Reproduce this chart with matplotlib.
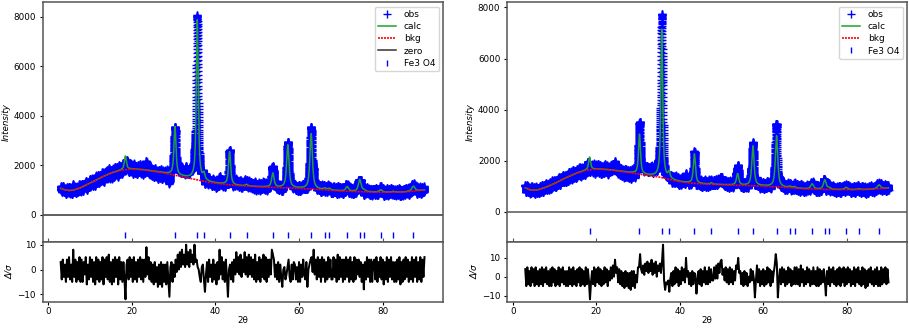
import numpy as np
import matplotlib
matplotlib.use("Agg")
import matplotlib.pyplot as plt

plt.rcParams["font.family"] = ["DejaVu Sans"]
plt.rcParams["font.size"] = 6.3

# ------------------------------------------------------------------ data
# 2-theta positions of the residual readings (0.25 deg apart, 3..90)
resid_theta = np.arange(3.0, 90.001, 0.25)
scan_step = 0.01

# ---- left pattern
left_refl = [18.47, 30.33, 35.67, 37.26, 43.39, 47.45, 53.74, 57.32, 62.90,
             66.16, 67.20, 71.50, 74.52, 75.56, 79.54, 82.48, 87.34]
left_height = [550, 1950, 6450, 250, 1330, 60, 570, 1730, 2230,
               60, 60, 180, 480, 60, 100, 30, 200]
left_fwhm = [0.58, 0.58, 0.56, 0.58, 0.6, 0.62, 0.68, 0.68, 0.7,
             0.72, 0.72, 0.78, 0.78, 0.78, 0.82, 0.82, 0.88]
left_bkg_theta = [3, 4, 5, 6, 7.5, 10, 12.5, 15, 17.5, 20, 22.5, 25, 27.5, 30,
                  32.5, 35, 37.5, 40, 42.5, 45, 50, 55, 60, 65, 70, 75, 80, 85, 90]
left_bkg = [1075, 1010, 985, 1000, 1080, 1280, 1500, 1690, 1810, 1855, 1830,
            1770, 1700, 1615, 1530, 1440, 1350, 1280, 1230, 1190, 1140, 1105,
            1075, 1025, 970, 935, 915, 925, 1005]
left_resid = [
    3, -4, 4, -3, 2, -5, 4, -3, 5, -4, 2, -5, 8, -3, 4, -5, 3, -4, 5, -5,
    4, -5, 3, -2, 5, -6, 2, -4, 5, -3, 4, -5, 3, -6, 5, -4, 4, -5, 3, -4,
    5, -6, 4, -3, 5, -4, 6, -5, 3, -6, 4, -5, 5, -3, 4, -6, 5, -4, 3, -5,
    3, -4, -12, 2, 4, -4, 5, -3, 4, -5, 5, -4, 3, -5, 4, -3, 5, -4, 4, -5,
    4, -3, 9, -2, 5, -4, 3, -5, 2, -6, 3, -5, 1, -7, 2, -6, 3, -7, 2, -5,
    2, -6, 3, -4, -11, 1, 3, -5, 2, -3, 4, -1, 6, 0, 7, 1, 8, 2, 6, 1,
    10, 2, 7, 1, 8, 3, 6, 2, 10, 3, 4, 1, 0, -3, -5, 1, 2, -4, -9, -2,
    3, -5, 4, -3, 2, -5, 4, -4, 2, -6, 3, -4, 8, -2, 5, -4, 3, -5, 4, -3,
    -11, 0, 2, -4, 3, -5, 4, -2, 7, -1, 5, -2, 6, -3, 4, -1, 7, -2, 5, -3,
    6, -2, 5, -3, 4, -4, 6, -5, 3, -4, 5, -5, 4, -3, 6, -4, 5, -5, 4, -3,
    4, -2, 8, 6, 4, -3, 2, -4, 3, -5, 2, -3, -7, 0, 1, -4, -2, 1, 4, -3,
    -5, 2, -4, 3, 2, -4, 1, -5, 3, -5, 2, -3, 4, -2, -4, 3, -7, 0, 2, 4,
    5, -1, 8, -2, 4, -4, 5, -3, 4, -5, 5, -3, 4, -5, 3, -4, 5, -3, 4, -4,
    -4, 5, -3, 4, -5, 6, -4, 5, -3, 4, -5, 4, -4, 5, -3, 4, -5, 5, -4, 3,
    -5, 5, -4, 4, -2, 4, -3, 3, -5, 2, -8, 3, -4, 5, -3, 4, -5, 4, -5, 3,
    4, -4, 5, -5, 3, -3, 5, -4, 4, -6, 3, -4, 5, -5, 4, -3, 5, -4, 3, -5,
    3, -5, 4, -4, 5, -6, 3, -5, 4, -4, 5, -3, 4, -5, 3, -4, 5, -5, 4, -3,
    5, -5, 3, -4, 5, -5, 4, -3, 5]
left_refl_level = -800
left_ylim = (-1090, 8590)
left_phase = "Fe3 O4"

# ---- right pattern
right_refl = [18.41, 30.36, 35.70, 37.45, 43.51, 47.57, 53.86, 57.53, 63.19,
              66.37, 67.49, 71.71, 74.74, 75.78, 79.84, 82.87, 87.73]
right_height = [500, 1550, 5800, 250, 1150, 50, 450, 1550, 2000,
                50, 50, 200, 370, 60, 90, 30, 150]
right_fwhm = [0.56, 0.55, 0.54, 0.56, 0.58, 0.6, 0.64, 0.64, 0.66,
              0.7, 0.7, 0.75, 0.75, 0.75, 0.8, 0.8, 0.85]
right_bkg_theta = [3, 4, 5, 6, 7.5, 10, 12.5, 15, 17.5, 20, 22.5, 25, 27.5, 30,
                   32.5, 35, 37.5, 40, 42.5, 45, 50, 55, 60, 65, 70, 75, 80, 85, 90]
right_bkg = [940, 870, 850, 865, 940, 1110, 1320, 1500, 1630, 1680, 1660,
             1610, 1550, 1490, 1430, 1370, 1270, 1180, 1130, 1100, 1065, 1040,
             1015, 960, 905, 880, 870, 880, 935]
right_resid = [
    4, -5, 5, -4, 3, -5, 5, -3, 4, -5, 5, -4, 3, -5, 4, -4, 5, -5, 4, -3,
    5, -4, 3, -5, 4, -5, 5, -3, 4, -5, 3, -4, 5, -5, 4, -3, 5, -4, 3, -5,
    3, -5, 5, -4, 4, -5, 5, -4, 3, -5, 4, -3, 5, -5, 4, -4, 3, -5, 5, -4,
    4, -2, -12, -3, 3, -4, 5, -5, 4, -3, 5, -4, 4, -5, 3, -4, 5, -3, 4, -5,
    3, -2, 5, -1, 6, 0, 9, 2, 5, -3, 4, -4, 3, -5, 2, -6, 3, -5, 2, -6,
    2, -7, 3, -5, 3, -6, 1, -3, 5, 5, 12, 4, 2, 6, 1, 7, 3, 8, 2, 7,
    3, 9, 1, 7, 2, 8, 0, 6, 3, 7, 2, 8, 17, -2, -7, -3, -4, -2, -8, -1,
    2, -5, 3, -4, 5, -3, 4, -5, 3, -4, 5, -2, 4, -3, 10, 0, 3, -4, 2, -5,
    3, -4, 2, 1, -9, -2, 3, -4, 4, -5, 3, -3, 5, -4, 3, -4, 5, -3, 4, -2,
    -2, 5, -1, 6, -1, 7, 2, 8, 9, 1, 4, -2, 5, -3, 4, -4, 5, -3, 4, -4,
    3, -2, 6, 4, 10, 2, 3, -4, 2, -5, 3, -4, 2, -5, 0, -3, 4, -2, 3, -1,
    -11, -2, 6, -3, 4, -5, 3, -4, 4, -5, 3, -4, 5, -3, 4, -5, 3, -3, 2, 6,
    12, 7, -11, -2, 4, -4, 5, -3, 4, -5, 3, -4, 5, -3, 4, -5, 3, -4, 5, -4,
    5, -4, 4, -5, 6, -3, 4, -5, 3, -4, 5, -3, 4, -5, 3, -4, 5, -4, 3, -5,
    5, -5, 4, -4, 3, -3, 4, -2, -10, 3, -4, 5, -5, 4, -3, 5, -4, 3, -5, 4,
    -4, 5, -5, 4, -3, 5, -5, 4, -4, 5, -3, 4, -5, 3, -4, 5, -5, 4, -3, 5,
    -4, 3, -5, 5, -4, 4, -6, 3, -5, 4, -3, 5, -4, 3, -5, 4, -4, 5, -5, 3,
    -5, 5, -4, 4, -3, 5, -4, 4, -3]
right_refl_level = -760
right_ylim = (-1175, 8210)

x_limits = (-1.3, 94.5)
calc_color = "#22a033"


def calc_pattern(x, refl, height, fwhm, bkg_t, bkg_v, eta=0.75):
    y = np.interp(x, bkg_t, bkg_v)
    for p, h, w in zip(refl, height, fwhm):
        d = (x - p) / w
        y = y + h * (eta / (1 + 4 * d * d) + (1 - eta) * np.exp(-4 * np.log(2) * d * d))
    return y


fig = plt.figure(figsize=(9.09, 3.28), dpi=100)
W, H = 909.0, 328.0


def px_axes(x0, y0, x1, y1):
    return fig.add_axes([x0 / W, 1 - y1 / H, (x1 - x0) / W, (y1 - y0) / H])


def style(ax):
    for s in ax.spines.values():
        s.set_color("#555555")
        s.set_linewidth(1.1)
    ax.tick_params(axis="y", length=2.5, pad=2.5)


def panel(xl, xr, refl, height, fwhm, bkg_t, bkg_v, resid, refl_level,
          ylim, show_zero_label):
    ax = px_axes(xl, 2, xr, 242)
    axr = px_axes(xl, 242, xr, 302)
    style(ax)
    style(axr)
    x = np.arange(3.0, 90.0 + 1e-9, scan_step)
    calc = calc_pattern(x, refl, height, fwhm, bkg_t, bkg_v)
    bkg = np.interp(x, bkg_t, bkg_v)
    obs = calc + np.interp(x, resid_theta, resid) * np.sqrt(calc)

    ax.plot(x, obs, ls="none", marker="+", color="blue", ms=5.2, mew=1.0,
            label="obs")
    ax.plot(x, calc, color=calc_color, lw=1.1, label="calc")
    ax.plot(x, bkg, color="red", lw=1.2, ls=(0, (1.2, 0.6)), label="bkg")
    if show_zero_label:
        ax.axhline(0, color="#333333", lw=1.1, label="zero")
    else:
        ax.axhline(0, color="#555555", lw=1.1)
    ax.plot(refl, [refl_level] * len(refl), ls="none", marker="|",
            color="blue", ms=4.5, mew=1.0, label=left_phase)
    ax.set_xlim(*x_limits)
    ax.set_ylim(*ylim)
    ax.set_yticks([0, 2000, 4000, 6000, 8000])
    ax.set_ylabel("Intensity", style="italic", labelpad=2)
    ax.tick_params(axis="x", direction="in", labelbottom=False, length=3,
                   color="#555555")
    ax.set_xticks([0, 20, 40, 60, 80])
    ax.legend(loc="upper right", fontsize=6.5, handlelength=2.0,
              borderpad=0.4, labelspacing=0.35)

    axr.plot(resid_theta, resid, color="black", lw=1.45)
    axr.set_xlim(*x_limits)
    axr.set_xticks([0, 20, 40, 60, 80])
    axr.set_yticks([-10, 0, 10])
    axr.tick_params(axis="x", length=2, pad=1.5)
    axr.set_ylabel("Δ/σ", style="italic", labelpad=2)
    axr.set_xlabel("2θ", labelpad=0)


panel(42.7, 443.3, left_refl, left_height, left_fwhm, left_bkg_theta, left_bkg,
      left_resid, left_refl_level, left_ylim, True)
panel(507.3, 907.3, right_refl, right_height, right_fwhm, right_bkg_theta,
      right_bkg, right_resid, right_refl_level, right_ylim, False)

fig.savefig("out.png", dpi=100)
